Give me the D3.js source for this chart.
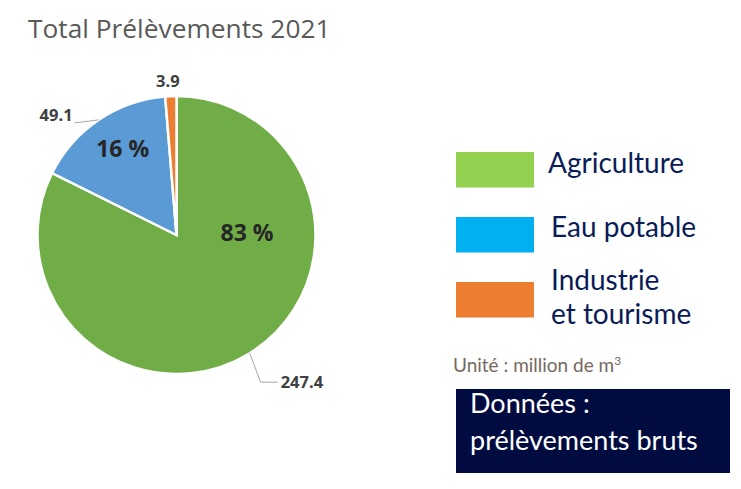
<!DOCTYPE html>
<html><head><meta charset="utf-8">
<script src="https://cdn.jsdelivr.net/npm/d3@7"></script>
<style>body{margin:0;background:#fff}svg{display:block}</style>
</head><body>
<script>
const categories = ["Agriculture", "Eau potable", "Industrie et tourisme"];
const values = [247.4, 49.1, 3.9];
const valueLabels = ["247.4", "49.1", "3.9"];
const pctLabels = ["83 %", "16 %", ""];
const sliceColors = ["#70AD47", "#5B9BD5", "#ED7D31"];
const legendLines = [["Agriculture"], ["Eau potable"], ["Industrie", "et tourisme"]];
const legendColors = ["#92D050", "#00B0F0", "#ED7D31"];

const W = 741, H = 489;
const svg = d3.select("body").append("svg").attr("width", W).attr("height", H);

svg.append("text").attr("x", 28).attr("y", 38)
  .attr("font-family", "Open Sans, sans-serif").attr("font-size", 26.3)
  .attr("fill", "#595959").text("Total Prélèvements 2021");

const cx = 176.5, cy = 235, R = 139;
const pie = d3.pie().sort(null).value(d => d)(values);
const arc = d3.arc().innerRadius(0).outerRadius(R);
const g = svg.append("g").attr("transform", `translate(${cx},${cy})`);
g.selectAll("path").data(pie).join("path")
  .attr("d", arc).attr("fill", (d, i) => sliceColors[i])
  .attr("stroke", "#fff").attr("stroke-width", 2.5).attr("stroke-linejoin", "miter");

function pt(a, r) { return [Math.sin(a) * r, -Math.cos(a) * r]; }
function mid(d) { return (d.startAngle + d.endAngle) / 2; }

// percentage labels inside
const pctAt = [
  [70.5, -3],                      // Agriculture: right of centre
  pt(mid(pie[1]), R * 0.73)        // Eau potable
];
pctAt[1] = [pctAt[1][0] + 3, pctAt[1][1] - 3];
pie.forEach((d, i) => {
  if (!pctLabels[i]) return;
  g.append("text").attr("x", pctAt[i][0]).attr("y", pctAt[i][1])
    .attr("text-anchor", "middle").attr("dominant-baseline", "central")
    .attr("font-family", "Open Sans, sans-serif").attr("font-weight", "bold")
    .attr("font-size", 23).attr("fill", "#262626").text(pctLabels[i]);
});

const lab = { fam: "Open Sans, sans-serif", size: 16.5, col: "#404040" };
const lineCol = "#A6A6A6";
// Agriculture
{
  const p0 = pt(mid(pie[0]), R);
  const p1 = [p0[0] + 11, p0[1] + 29];
  const p2 = [p1[0] + 17, p1[1]];
  g.append("polyline").attr("points", [p0, p1, p2].map(p => p.join(",")).join(" "))
    .attr("fill", "none").attr("stroke", lineCol).attr("stroke-width", 1);
  g.append("text").attr("x", p2[0] + 3).attr("y", p2[1] - 1).attr("dominant-baseline", "central")
    .attr("font-family", lab.fam).attr("font-weight", "bold").attr("font-size", lab.size)
    .attr("fill", lab.col).text(valueLabels[0]);
}
// Eau potable
{
  const p0 = pt(mid(pie[1]), R);
  const p1 = [p0[0] - 24, p0[1] + 3];
  g.append("polyline").attr("points", [p0, p1].map(p => p.join(",")).join(" "))
    .attr("fill", "none").attr("stroke", lineCol).attr("stroke-width", 1);
  g.append("text").attr("x", p1[0] - 2).attr("y", p1[1] - 8).attr("text-anchor", "end")
    .attr("dominant-baseline", "central")
    .attr("font-family", lab.fam).attr("font-weight", "bold").attr("font-size", lab.size)
    .attr("fill", lab.col).text(valueLabels[1]);
}
// Industrie
{
  const [x, y] = pt(mid(pie[2]), R);
  g.append("text").attr("x", x - 3).attr("y", y - 16).attr("text-anchor", "middle")
    .attr("dominant-baseline", "central")
    .attr("font-family", lab.fam).attr("font-weight", "bold").attr("font-size", lab.size)
    .attr("fill", lab.col).text(valueLabels[2]);
}

// legend
const legFont = "Lato, sans-serif";
const legTop = [152, 217, 282];
const legText = [[173], [237], [290, 324]];
const legX = [548, 551, 551];
categories.forEach((c, i) => {
  svg.append("rect").attr("x", 456).attr("y", legTop[i]).attr("width", 78).attr("height", 35.5)
    .attr("fill", legendColors[i]);
  legendLines[i].forEach((t, j) => {
    svg.append("text").attr("x", legX[i]).attr("y", legText[i][j])
      .attr("font-family", legFont).attr("font-size", 28).attr("fill", "#0A1C57").text(t);
  });
});

const unit = svg.append("text").attr("x", 453).attr("y", 372)
  .attr("font-family", legFont).attr("font-size", 19).attr("fill", "#76685E");
unit.append("tspan").text("Unité : million de m");
unit.append("tspan").attr("font-size", 12).attr("dy", -7).text("3");

svg.append("rect").attr("x", 456).attr("y", 389).attr("width", 274).attr("height", 84)
  .attr("fill", "#000C3F");
svg.append("text").attr("x", 470).attr("y", 413).attr("font-family", legFont)
  .attr("font-size", 27).attr("fill", "#fff").text("Données :");
svg.append("text").attr("x", 470).attr("y", 450).attr("font-family", legFont)
  .attr("font-size", 27).attr("fill", "#fff").text("prélèvements bruts");
</script>
</body></html>
